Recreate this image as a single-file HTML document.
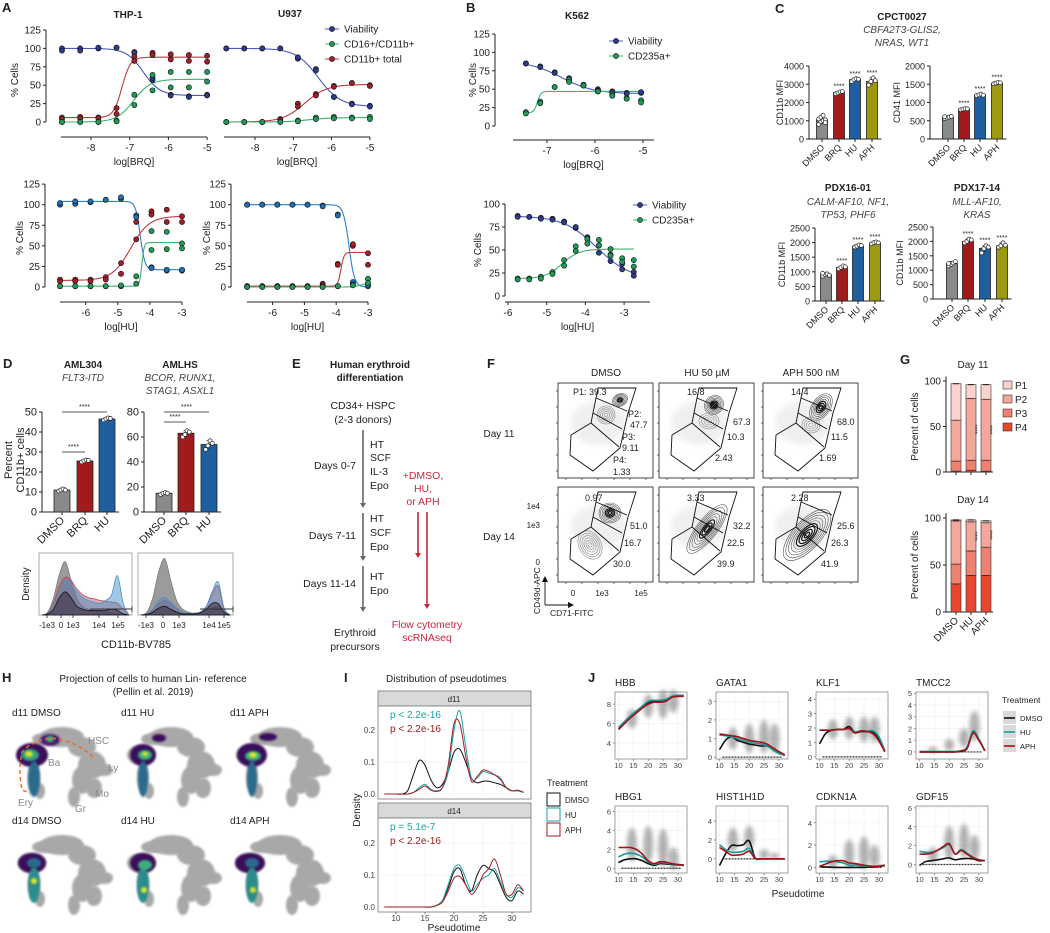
<!DOCTYPE html>
<html><head><meta charset="utf-8"><style>
html,body{margin:0;padding:0;background:#fff;}
svg{display:block;font-family:"Liberation Sans",Arial,sans-serif;}
</style></head><body>
<svg id="fig" width="1050" height="933" viewBox="0 0 1050 933" xmlns="http://www.w3.org/2000/svg">
<defs>
<filter id="blur2" x="-50%" y="-50%" width="200%" height="200%"><feGaussianBlur stdDeviation="2"/></filter>
<filter id="blur1" x="-50%" y="-50%" width="200%" height="200%"><feGaussianBlur stdDeviation="1"/></filter>
<filter id="blur3" x="-50%" y="-50%" width="200%" height="200%"><feGaussianBlur stdDeviation="3"/></filter>
</defs>
</svg>
<script>
const NS='http://www.w3.org/2000/svg';
const svg=document.getElementById('fig');

/* ---------- Panel A data ---------- */
const aTopDoses=[-8.75,-8.28,-7.81,-7.34,-6.88,-6.41,-5.94,-5.47,-5.0];
const aBotDoses=[-6.8,-6.325,-5.85,-5.375,-4.9,-4.425,-3.95,-3.475,-3.0];
const thpBrqVia=[[100,100,100,101,95,57,37,35,37],[97,97,101,101,94,60,36,34,36]];
const thpBrqRed=[[6,7,6,19,89,94,92,91,90],[4,5,5,11,83,91,85,83,82]];
const thpBrqGrn=[[0,0,0,2,37,64,68,68,68],[0,0,0,1,23,43,47,47,55]];
const u937BrqVia=[[100,100,100,100,86,72,34,25,22],[100,100,100,100,88,70,34,24,21]];
const u937BrqRed=[[0,0,0,4,25,38,49,53,50],[0,0,0,3,21,36,48,53,49]];
const u937BrqGrn=[[0,0,0,0,2,6,7,6,7],[0,0,0,0,1,4,5,5,4]];
const thpHuVia=[[100,101,103,106,107,87,24,20,20],[102,104,104,106,109,85,23,21,21]];
const thpHuRed=[[9,9,9,12,29,58,92,94,86],[7,7,7,9,16,79,88,79,79]];
const thpHuGrn=[[1,1,1,1,1,4,68,67,53],[1,1,1,1,2,13,45,46,47]];
const u937HuVia=[[100,100,100,100,100,99,88,5,1],[100,100,100,100,100,98,87,6,2]];
const u937HuRed=[[1,1,1,1,1,4,28,50,41],[1,1,1,1,1,2,27,52,27]];
const u937HuGrn=[[0,0,0,0,0,0,1,3,10],[0,0,0,0,0,0,1,2,5]];
/* curve params: start, end, logEC50, hill */
const fitThpBrq=[[100,36,-6.65,2],[6,88,-7.2,4],[0,58,-6.9,2]];
const fitU937Brq=[[100,21,-6.35,1.5],[0,51,-6.7,1.5],[0,6,-6.6,1.5]];
const fitThpHu=[[104,21,-4.3,6],[8,86,-4.6,1.5],[1,54,-4.25,12]];
const fitU937Hu=[[100,0,-3.6,5],[1,42,-3.85,9],[0,8,-3.1,3]];
/* ---------- Panel B data ---------- */
const bTopDoses=[-7.44,-7.14,-6.84,-6.54,-6.24,-5.94,-5.64,-5.34,-5.04];
const bBotDoses=[-5.75,-5.45,-5.15,-4.85,-4.55,-4.25,-3.95,-3.65,-3.35,-3.05,-2.75];
const k562BrqVia=[[85,81,73,65,56,50,47,45,45],[85,80,72,62,55,48,46,44,46]];
const k562BrqGrn=[[19,33,53,63,56,47,43,38,35],[17,31,53,60,55,47,41,37,32]];
const k562HuVia=[[87,86,85,84,81,74,64,55,45,35,26],[86,86,84,83,80,75,62,47,38,29,22]];
const k562HuGrn=[[19,19,21,26,39,54,62,61,51,41,39],[18,18,19,24,33,49,57,55,44,37,32]];
const fitK562Brq=[[88,44,-6.7,1.3],[18,47,-7.2,12]];
const fitK562Hu=[[87,18,-3.7,1],[19,51,-4.6,2]];
/* ---------- Panel C data ---------- */
const cCats=['DMSO','BRQ','HU','APH'];
const cCpctCd11b=[1050,2550,3250,3150];
const cCpctCd11bReps=[[800,950,1000,1050,1100,1200,1300,900],[2480,2520,2580,2600],[3150,3250,3300,3280],[2950,3150,3350,3200]];
const cCpctCd41=[590,820,1210,1530];
const cCpctCd41Reps=[[560,580,600,620,610],[800,820,830,825],[1190,1210,1230,1200],[1510,1530,1550,1540]];
const cPdx16=[900,1150,1880,1990];
const cPdx16Reps=[[850,900,930,880,950],[1100,1150,1200,1170],[1850,1880,1920,1900],[1960,2000,2020,1990]];
const cPdx17=[1230,2000,1760,1850];
const cPdx17Reps=[[1150,1200,1250,1300,1230],[1950,2000,2080,2050],[1600,1750,1850,1800],[1800,1850,1950,1870]];
/* ---------- Panel D data ---------- */
const dCats=['DMSO','BRQ','HU'];
const dAml304=[11,25.5,46.5];
const dAml304Reps=[[10.5,11,11.5,11],[25,25.5,26,25.8],[46,46.5,47,46.8]];
const dAmlhs=[15,63,54];
const dAmlhsReps=[[14,15,15.5,15],[60,62,65,64],[50,53,57,55]];
const dDensLeft=[[0,0.05,0.3,0.7,0.92,0.6,0.3,0.15,0.1,0.08,0.06,0.05,0.04,0.02,0,0],[0,0.02,0.2,0.5,0.65,0.6,0.45,0.35,0.3,0.28,0.25,0.24,0.22,0.2,0.1,0],[0,0.02,0.15,0.4,0.6,0.55,0.4,0.3,0.25,0.22,0.2,0.25,0.35,0.68,0.2,0],[0,0.02,0.1,0.3,0.4,0.3,0.15,0.1,0.08,0.08,0.08,0.08,0.1,0.08,0.02,0]];
const dDensRight=[[0,0.05,0.3,0.75,0.97,0.6,0.25,0.1,0.05,0.03,0.05,0.08,0.12,0.15,0.05,0],[0,0.02,0.1,0.2,0.25,0.2,0.12,0.05,0.03,0.03,0.05,0.15,0.35,0.5,0.1,0],[0,0.02,0.1,0.25,0.3,0.22,0.12,0.05,0.03,0.03,0.05,0.15,0.4,0.57,0.12,0],[0,0.01,0.05,0.12,0.15,0.1,0.05,0.02,0.02,0.02,0.04,0.1,0.2,0.2,0.05,0]];
/* ---------- Panel G data ---------- */
const gCats=['DMSO','HU','APH'];
const gDay11=[[1,11,45,40],[2,11,68,15],[1,12,67,16]]; /* P4,P3,P2,P1 */
const gDay14=[[30,21,46,1],[39,26,31,2],[39,30,26,2]];
/* ---------- Panel I data ---------- */
const iTimes=[8,9,10,11,12,13,14,15,16,17,18,19,20,21,22,23,24,25,26,27,28,29,30,31,32];
const iD11Dmso=[0,0,0,0,0.01,0.06,0.105,0.09,0.045,0.02,0.03,0.07,0.13,0.14,0.1,0.05,0.035,0.04,0.04,0.035,0.03,0.02,0.01,0.01,0.005];
const iD11Hu=[0,0,0,0,0,0.005,0.02,0.03,0.015,0.01,0.02,0.07,0.2,0.26,0.15,0.05,0.05,0.07,0.065,0.06,0.05,0.02,0.01,0.01,0.005];
const iD11Aph=[0,0,0,0,0,0.005,0.015,0.025,0.012,0.008,0.02,0.09,0.22,0.22,0.12,0.04,0.055,0.075,0.07,0.06,0.045,0.02,0.01,0.012,0.005];
const iD14Dmso=[0,0,0,0,0,0,0,0,0,0.005,0.02,0.06,0.11,0.12,0.07,0.05,0.1,0.13,0.12,0.11,0.07,0.03,0.02,0.05,0.04];
const iD14Hu=[0,0,0,0,0,0,0,0,0,0.005,0.02,0.07,0.12,0.13,0.09,0.05,0.07,0.09,0.1,0.12,0.08,0.04,0.03,0.06,0.05];
const iD14Aph=[0,0,0,0,0,0,0,0,0,0.005,0.015,0.05,0.09,0.095,0.07,0.04,0.06,0.1,0.12,0.15,0.1,0.04,0.04,0.07,0.05];
/* ---------- Panel J data ---------- */
const jGenes=['HBB','GATA1','KLF1','TMCC2','HBG1','HIST1H1D','CDKN1A','GDF15'];
const jTimes=[10,12,14,16,18,20,22,24,26,28,30,32];
const jYRange=[[2.35,9.25],[-0.1,3.5],[-0.15,4.5],[-0.6,5.1],[-0.5,6.6],[-1.5,5.6],[-0.5,5.5],[-0.9,6.2]];
const jTicks=[[4,6,8],[0,1,2,3],[0,1,2,3,4],[0,1,2,3,4,5],[0,2,4,6],[0,2,4],[0,2,4],[0,2,4,6]];
const jDmso=[[5.4,6.0,6.6,7.1,7.6,8.1,8.3,8.3,8.4,8.8,8.9,8.9],[0.4,0.9,1.1,0.9,0.8,0.7,0.65,0.6,0.6,0.4,0.2,0.1],[0.9,1.6,1.85,1.9,1.9,2.1,1.7,1.75,1.75,1.7,1.2,0.4],[0,0,0,0,0,0,0,0.05,0.3,1.7,1.0,0.1],[0.6,0.9,1.0,1.0,0.8,0.5,0.3,0.5,0.45,0.4,0.35,0.3],[-0.7,0.5,1.4,1.4,1.5,1.9,0.1,0,0,0,0,0],[0.05,0.05,0.02,0,0,0,0,0,0.02,0.05,0.1,0.15],[-0.1,0.3,0.4,0.5,0.6,0.7,0.5,0.6,0.65,0.6,0.4,0.4]];
const jHu=[[5.6,6.2,6.8,7.3,7.8,8.3,8.4,8.4,8.5,8.8,8.9,8.9],[1.2,1.15,1.1,1.0,0.9,0.8,0.75,0.7,0.6,0.4,0.2,0.1],[1.85,1.85,1.85,1.9,1.9,1.95,1.75,1.8,1.8,1.8,1.4,0.4],[0.05,0.05,0.05,0.05,0.05,0.05,0.05,0.1,0.4,1.8,1.1,0.1],[1.2,1.5,1.6,1.5,1.2,0.7,0.4,0.6,0.55,0.45,0.4,0.35],[1.5,1.0,0.7,0.7,0.8,1.1,0.05,0,0,0,0,0],[0.5,0.55,0.55,0.5,0.4,0.2,0.2,0.15,0.1,0.1,0.15,0.2],[1.4,1.3,1.3,1.5,1.8,2.1,1.1,1.6,1.2,0.8,0.5,0.4]];
const jAph=[[5.4,6.0,6.6,7.1,7.6,8.0,8.2,8.2,8.3,8.7,8.8,8.8],[1.25,1.2,1.15,1.1,1.0,0.9,0.85,0.8,0.7,0.5,0.3,0.12],[1.85,1.85,1.85,1.9,1.9,1.95,1.65,1.8,1.75,1.6,1.1,0.35],[0,0,0,0,0,0,0,0.1,0.3,1.6,1.0,0.1],[2.2,2.2,2.2,2.0,1.5,0.8,0.5,0.7,0.65,0.5,0.4,0.35],[1.2,0.8,0.4,0.4,0.5,0.8,0.05,0,0,0,0,0],[0.1,0.3,0.5,0.6,0.6,0.4,0.35,0.25,0.15,0.1,0.1,0.2],[1.1,1.1,1.2,1.5,1.9,2.2,1.1,1.5,1.1,0.7,0.5,0.4]];
/* expression clouds: [centre, half-spread] at pseudotime 14.5, 20, 25, 28.5 */
const jCloudTimes=[14.5,20,25,28.5];
const jClouds=[[[6.5,1],[7.8,1.2],[8,1.5],[8.3,1.2]],[[1,0.6],[1,0.8],[1.1,0.9],[1,0.8]],[[1.9,0.7],[2,0.8],[1.9,0.9],[1.9,0.9]],[[0.2,0.2],[0.6,0.5],[1.2,0.8],[2.2,1.3]],[[2.5,1.8],[2.5,2],[2.2,2],[1,1.2]],[[2,1.3],[2.2,1.3],[0.5,0.5],[0.3,0.3]],[[0.5,0.6],[1.2,1.3],[1.3,1.5],[1,1]],[[1,0.8],[2.3,1.8],[2.5,1.8],[1.8,1.3]]];

/* ---------- helpers ---------- */
function mk(tag,attrs,name,inter,parent){
  const e=document.createElementNS(NS,tag);
  for(const k in attrs){ if(attrs[k]!==undefined&&attrs[k]!==null) e.setAttribute(k,attrs[k]); }
  
  
  (parent||svg).appendChild(e);
  return e;
}
function tx(x,y,s,o,name){
  o=o||{};
  const e=mk('text',{x:x,y:y,'font-size':o.fs||9,'text-anchor':o.a||'start','font-weight':o.b?'bold':'normal','font-style':o.i?'italic':'normal',fill:o.c||'#222',transform:o.r?('rotate('+o.r+' '+x+' '+y+')'):null},name||'label',false,o.p);
  e.textContent=s; return e;
}
function ln(x1,y1,x2,y2,c,w,name,dash,p){
  return mk('line',{x1:x1,y1:y1,x2:x2,y2:y2,stroke:c||'#222','stroke-width':w||1,'stroke-dasharray':dash||null},name||'line',false,p);
}
function smooth(pts){
  if(pts.length<2) return '';
  let d='M'+pts[0][0].toFixed(1)+','+pts[0][1].toFixed(1);
  for(let i=0;i<pts.length-1;i++){
    const p0=pts[i-1]||pts[i],p1=pts[i],p2=pts[i+1],p3=pts[i+2]||p2;
    const c1=[p1[0]+(p2[0]-p0[0])/6,p1[1]+(p2[1]-p0[1])/6];
    const c2=[p2[0]-(p3[0]-p1[0])/6,p2[1]-(p3[1]-p1[1])/6];
    d+='C'+c1[0].toFixed(1)+','+c1[1].toFixed(1)+' '+c2[0].toFixed(1)+','+c2[1].toFixed(1)+' '+p2[0].toFixed(1)+','+p2[1].toFixed(1);
  }
  return d;
}
function sig(p,x){ return p[0]+(p[1]-p[0])/(1+Math.pow(10,(p[2]-x)*p[3])); }

/* ---------- dose response plot ---------- */
function doseResp(c){
  const X=v=>c.xref+(v-c.tref)*c.ppd;
  const Y=v=>c.y0-v*c.ppu;
  if(c.yaxis){
    ln(c.yaxis,Y(0),c.yaxis,Y(c.ymax),'#222',1,'y-axis');
    c.yticks.forEach(t=>{ ln(c.yaxis-3,Y(t),c.yaxis,Y(t),'#222',1,'y-tick'); tx(c.yaxis-5,Y(t)+3.5,String(t),{a:'end',fs:10},'y-tick-label'); });
  }
  ln(c.xa0,c.xaxisY,c.xa1,c.xaxisY,'#222',1,'x-axis');
  c.xticks.forEach(t=>{ ln(X(t),c.xaxisY,X(t),c.xaxisY+3,'#222',1,'x-tick'); tx(X(t),c.xaxisY+14,String(t),{a:'middle',fs:10},'x-tick-label'); });
  tx((c.xa0+c.xa1)/2,c.xaxisY+28,c.xlabel,{a:'middle',fs:10},'x-axis-title');
  c.series.forEach((s,si)=>{
    const pts=[];
    for(let k=0;k<=80;k++){ const x=c.doses[0]+(c.doses[c.doses.length-1]-c.doses[0])*k/80; pts.push([X(x),Y(sig(s.fit,x))]); }
    mk('path',{d:smooth(pts),fill:'none',stroke:s.line,'stroke-width':1.1},'fit-curve-'+s.key);
  });
  c.series.forEach(s=>{
    s.reps.forEach(rep=>rep.forEach((v,i)=>{
      mk('circle',{cx:X(c.doses[i]),cy:Y(v),r:2.6,fill:s.dot,stroke:'#111','stroke-width':0.6},'point-'+s.key);
    }));
  });
}
const VIA={dot:'#2e3a8c',line:'#4a5bbf'}, VIA2={dot:'#1f6fb8',line:'#2a7fd0'}, RED={dot:'#a31d24',line:'#c0393f'}, GRN={dot:'#1f9a55',line:'#3cb371'};
function ser(col,key,reps,fit){ return {dot:col.dot,line:col.line,key:key,reps:reps,fit:fit}; }

tx(2,12,'A',{b:1,fs:13},'panel-label-a');
tx(128,18,'THP-1',{b:1,fs:10,a:'middle'},'thp1-title');
tx(290,17,'U937',{b:1,fs:10,a:'middle'},'u937-title');
tx(18,80,'% Cells',{a:'middle',fs:10,r:-90},'y-axis-title');
tx(23,238,'% Cells',{a:'middle',fs:10,r:-90},'y-axis-title');
tx(210,238,'% Cells',{a:'middle',fs:10,r:-90},'y-axis-title');

doseResp({xref:91,tref:-8,ppd:38.7,y0:122,ppu:0.736,ymax:125,yaxis:46,yticks:[0,25,50,75,100,125],xaxisY:137,xa0:61,xa1:207,xticks:[-8,-7,-6,-5],xlabel:'log[BRQ]',doses:aTopDoses,
 series:[ser(VIA,'viability',thpBrqVia,fitThpBrq[0]),ser(RED,'cd11b-total',thpBrqRed,fitThpBrq[1]),ser(GRN,'cd16-cd11b',thpBrqGrn,fitThpBrq[2])]});
doseResp({xref:255,tref:-8,ppd:38.3,y0:122,ppu:0.736,xaxisY:137,xa0:224,xa1:370,xticks:[-8,-7,-6,-5],xlabel:'log[BRQ]',doses:aTopDoses,
 series:[ser(VIA,'viability',u937BrqVia,fitU937Brq[0]),ser(RED,'cd11b-total',u937BrqRed,fitU937Brq[1]),ser(GRN,'cd16-cd11b',u937BrqGrn,fitU937Brq[2])]});
doseResp({xref:182,tref:-3,ppd:32.1,y0:287,ppu:0.823,ymax:125,yaxis:45,yticks:[0,25,50,75,100,125],xaxisY:302,xa0:60,xa1:182,xticks:[-6,-5,-4,-3],xlabel:'log[HU]',doses:aBotDoses,
 series:[ser(VIA2,'viability',thpHuVia,fitThpHu[0]),ser(RED,'cd11b-total',thpHuRed,fitThpHu[1]),ser(GRN,'cd16-cd11b',thpHuGrn,fitThpHu[2])]});
doseResp({xref:368,tref:-3,ppd:31.8,y0:287,ppu:0.823,ymax:125,yaxis:231,yticks:[0,25,50,75,100,125],xaxisY:302,xa0:247,xa1:368,xticks:[-6,-5,-4,-3],xlabel:'log[HU]',doses:aBotDoses,
 series:[ser(VIA2,'viability',u937HuVia,fitU937Hu[0]),ser(RED,'cd11b-total',u937HuRed,fitU937Hu[1]),ser(GRN,'cd16-cd11b',u937HuGrn,fitU937Hu[2])]});

function legend(x,y,items,gap){
  items.forEach((it,i)=>{
    const yy=y+i*gap;
    ln(x-7,yy,x+7,yy,it[1],1,'legend-line');
    mk('circle',{cx:x,cy:yy,r:2.6,fill:it[0],stroke:'#111','stroke-width':0.6},'legend-marker');
    tx(x+12,yy+3.5,it[2],{fs:10},'legend-entry');
  });
}
legend(332,29,[[VIA.dot,VIA.line,'Viability'],[GRN.dot,GRN.line,'CD16+/CD11b+'],[RED.dot,RED.line,'CD11b+ total']],15);

/* ---------- Panel B ---------- */
tx(466,12,'B',{b:1,fs:13},'panel-label-b');
tx(577,19,'K562',{b:1,fs:10,a:'middle'},'k562-title');
tx(476,80,'% Cells',{a:'middle',fs:10,r:-90},'y-axis-title');
tx(481,250,'% Cells',{a:'middle',fs:10,r:-90},'y-axis-title');
doseResp({xref:547,tref:-7,ppd:48,y0:126,ppu:0.736,ymax:125,yaxis:495,yticks:[0,25,50,75,100,125],xaxisY:140,xa0:513,xa1:654,xticks:[-7,-6,-5],xlabel:'log[BRQ]',doses:bTopDoses,
 series:[ser(VIA,'viability',k562BrqVia,fitK562Brq[0]),ser(GRN,'cd235a',k562BrqGrn,fitK562Brq[1])]});
doseResp({xref:508,tref:-6,ppd:38.7,y0:296,ppu:0.92,ymax:100,yaxis:505,yticks:[0,25,50,75,100],xaxisY:302,xa0:505,xa1:650,xticks:[-6,-5,-4,-3],xlabel:'log[HU]',doses:bBotDoses,
 series:[ser(VIA,'viability',k562HuVia,fitK562Hu[0]),ser(GRN,'cd235a',k562HuGrn,fitK562Hu[1])]});
legend(616,41,[[VIA.dot,VIA.line,'Viability'],[GRN.dot,GRN.line,'CD235a+']],15);
legend(640,205,[[VIA.dot,VIA.line,'Viability'],[GRN.dot,GRN.line,'CD235a+']],15);

/* ---------- bar plots (C, D) ---------- */
const BARCOL=['#8a8a8a','#a01c1c','#1f5fa0','#9c9a10'];
function barPlot(c){
  const Y=v=>c.y0-v*c.ppu;
  ln(c.yaxis,Y(0),c.yaxis,Y(c.ymax),'#222',1,'y-axis');
  c.yticks.forEach(t=>{ ln(c.yaxis-3,Y(t),c.yaxis,Y(t),'#222',1,'y-tick'); tx(c.yaxis-5,Y(t)+3.5,String(t),{a:'end',fs:c.fs||9},'y-tick-label'); });
  ln(c.yaxis,Y(0),c.xs[c.xs.length-1]+c.bw/2+4,Y(0),'#222',1,'x-axis');
  c.vals.forEach((v,i)=>{
    const x=c.xs[i];
    mk('rect',{x:x-c.bw/2,y:Y(v),width:c.bw,height:v*c.ppu,fill:BARCOL[i],stroke:'#222','stroke-width':0.8},'bar-'+c.cats[i].toLowerCase());
    const reps=c.reps[i]; const mx=Math.max(...reps), mn=Math.min(...reps);
    ln(x,Y(mn),x,Y(mx),'#222',0.8,'error-bar');
    ln(x-2.5,Y(mx),x+2.5,Y(mx),'#222',0.8,'error-cap');
    reps.forEach((r,j)=>{ mk('circle',{cx:x+((j%4)-1.5)*2.2,cy:Y(r),r:2,fill:'#fff',stroke:'#222','stroke-width':0.7},'replicate-point'); });
    ln(x,Y(0),x,Y(0)+3,'#222',1,'x-tick');
    tx(x+3,Y(0)+9,c.cats[i],{a:'end',fs:c.fs||9,r:-45},'x-tick-label');
    if(c.stars&&c.stars[i]) tx(x,Y(mx)-3,'****',{a:'middle',fs:7},'significance-stars');
  });
  if(c.ylabel) tx(c.ylx,(Y(0)+Y(c.ymax))/2,c.ylabel,{a:'middle',fs:c.fs||9,r:-90},'y-axis-title');
}
tx(775,13,'C',{b:1,fs:13},'panel-label-c');
tx(902,20,'CPCT0027',{b:1,fs:10,a:'middle'},'cpct0027-title');
tx(902,33,'CBFA2T3-GLIS2,',{i:1,fs:10,a:'middle',c:'#444'},'mutation-label');
tx(902,46,'NRAS, WT1',{i:1,fs:10,a:'middle',c:'#444'},'mutation-label');
barPlot({cats:cCats,vals:cCpctCd11b,reps:cCpctCd11bReps,xs:[822,839,855,872],bw:11,y0:139,ppu:73/4000,ymax:4000,yticks:[0,1000,2000,3000,4000],yaxis:809,stars:[0,1,1,1],ylabel:'CD11b MFI',ylx:783});
barPlot({cats:cCats,vals:cCpctCd41,reps:cCpctCd41Reps,xs:[948,964,980,997],bw:11,y0:139,ppu:73/2000,ymax:2000,yticks:[0,500,1000,1500,2000],yaxis:930,stars:[0,1,1,1],ylabel:'CD41 MFI',ylx:900});
tx(848,191,'PDX16-01',{b:1,fs:10,a:'middle'},'pdx1601-title');
tx(848,205,'CALM-AF10, NF1,',{i:1,fs:10,a:'middle',c:'#444'},'mutation-label');
tx(848,218,'TP53, PHF6',{i:1,fs:10,a:'middle',c:'#444'},'mutation-label');
tx(977,191,'PDX17-14',{b:1,fs:10,a:'middle'},'pdx1714-title');
tx(977,205,'MLL-AF10,',{i:1,fs:10,a:'middle',c:'#444'},'mutation-label');
tx(977,218,'KRAS',{i:1,fs:10,a:'middle',c:'#444'},'mutation-label');
barPlot({cats:cCats,vals:cPdx16,reps:cPdx16Reps,xs:[826,842,858,875],bw:11,y0:301,ppu:73/2500,ymax:2500,yticks:[0,500,1000,1500,2000,2500],yaxis:815,stars:[0,1,1,1],ylabel:'CD11b MFI',ylx:785});
barPlot({cats:cCats,vals:cPdx17,reps:cPdx17Reps,xs:[952,968,985,1002],bw:11,y0:299,ppu:72/2500,ymax:2500,yticks:[0,500,1000,1500,2000,2500],yaxis:933,stars:[0,1,1,1],ylabel:'CD11b MFI',ylx:903});

/* ---------- Panel D ---------- */
tx(3,368,'D',{b:1,fs:13},'panel-label-d');
tx(83,368,'AML304',{b:1,fs:10,a:'middle'},'aml304-title');
tx(83,381,'FLT3-ITD',{i:1,fs:10,a:'middle',c:'#444'},'mutation-label');
tx(180,368,'AMLHS',{b:1,fs:10,a:'middle'},'amlhs-title');
tx(180,381,'BCOR, RUNX1,',{i:1,fs:10,a:'middle',c:'#444'},'mutation-label');
tx(180,394,'STAG1, ASXL1',{i:1,fs:10,a:'middle',c:'#444'},'mutation-label');
barPlot({cats:dCats,vals:dAml304,reps:dAml304Reps,xs:[62,85,107],bw:16,y0:512,ppu:2,ymax:50,yticks:[0,10,20,30,40,50],yaxis:42,fs:11});
barPlot({cats:dCats,vals:dAmlhs,reps:dAmlhsReps,xs:[164,186,209],bw:16,y0:512,ppu:1.25,ymax:80,yticks:[0,20,40,60,80],yaxis:144,fs:11});
tx(12,460,'Percent',{a:'middle',fs:11,r:-90},'y-axis-title');
tx(24,460,'CD11b+ cells',{a:'middle',fs:11,r:-90},'y-axis-title');
function bracket(x1,x2,y){ ln(x1,y,x2,y,'#222',0.8,'significance-bracket'); tx((x1+x2)/2,y-3,'****',{a:'middle',fs:7},'significance-stars'); }
bracket(62,85,452); bracket(62,107,412); bracket(164,186,422); bracket(164,209,412);
function densityBox(x0,x1,y0,y1,data,ticks,gate){
  mk('rect',{x:x0,y:y0,width:x1-x0,height:y1-y0,fill:'none',stroke:'#999','stroke-width':0.8},'density-frame');
  const cols=[['#7a7a7a',0.75],['#b5474f',0.45],['#4a90c8',0.5],['#3a2a3a',0.55]];
  data.forEach((arr,si)=>{
    const pts=arr.map((v,i)=>[x0+3+i*(x1-x0-6)/(arr.length-1),y1-v*(y1-y0-4)]);
    const d=smooth(pts)+'L'+pts[pts.length-1][0]+','+y1+'L'+pts[0][0]+','+y1+'Z';
    mk('path',{d:d,fill:cols[si][0],'fill-opacity':cols[si][1],stroke:si==3?'#111':cols[si][0],'stroke-width':0.8},'density-curve');
  });
  ticks.forEach(t=>{ ln(t[0],y1,t[0],y1+3,'#222',0.8,'x-tick'); tx(t[0],y1+13,t[1],{a:'middle',fs:8},'x-tick-label'); });
  ln(gate[0],gate[2],gate[1],gate[2],'#333',0.9,'gate-line');
  ln(gate[1],gate[2]-3,gate[1],gate[2]+3,'#333',0.9,'gate-line');
}
densityBox(39,132,553,615,dDensLeft,[[47,'-1e3'],[61,'0'],[73,'1e3'],[99,'1e4'],[118,'1e5']],[90,132,609]);
densityBox(138,233,553,615,dDensRight,[[146,'-1e3'],[163,'0'],[179,'1e3'],[209,'1e4'],[224,'1e5']],[200,233,609]);
tx(29,584,'Density',{a:'middle',fs:10,r:-90},'y-axis-title');
tx(136,648,'CD11b-BV785',{a:'middle',fs:11},'x-axis-title');

/* ---------- Panel E ---------- */
tx(292,368,'E',{b:1,fs:13},'panel-label-e');
tx(370,368,'Human erythroid',{b:1,fs:10,a:'middle'},'flowchart-title');
tx(370,381,'differentiation',{b:1,fs:10,a:'middle'},'flowchart-title');
tx(363,409,'CD34+ HSPC',{a:'middle',fs:10.5},'flow-step');
tx(363,423,'(2-3 donors)',{a:'middle',fs:10.5},'flow-step');
function arrowDown(x,y1,y2,c,name){ ln(x,y1,x,y2-4,c,1.6,name); mk('path',{d:'M'+(x-3)+','+(y2-5)+'L'+(x+3)+','+(y2-5)+'L'+x+','+y2+'Z',fill:c},name+'-head'); }
arrowDown(363,430,508,'#666','timeline-arrow');
arrowDown(363,513,561,'#666','timeline-arrow');
arrowDown(363,566,612,'#666','timeline-arrow');
tx(356,469,'Days 0-7',{a:'end',fs:10.5},'stage-label');
[['HT',448],['SCF',461],['IL-3',475],['Epo',489]].forEach(s=>tx(370,s[1],s[0],{fs:10.5},'cytokine-label'));
tx(356,539,'Days 7-11',{a:'end',fs:10.5},'stage-label');
[['HT',522],['SCF',536],['Epo',550]].forEach(s=>tx(370,s[1],s[0],{fs:10.5},'cytokine-label'));
tx(356,587,'Days 11-14',{a:'end',fs:10.5},'stage-label');
[['HT',580],['Epo',594]].forEach(s=>tx(370,s[1],s[0],{fs:10.5},'cytokine-label'));
tx(355,636,'Erythroid',{a:'middle',fs:10.5},'flow-step');
tx(355,650,'precursors',{a:'middle',fs:10.5},'flow-step');
const RC='#c8283c';
tx(423,479,'+DMSO,',{a:'middle',fs:10.5,c:RC},'treatment-label');
tx(423,492,'HU,',{a:'middle',fs:10.5,c:RC},'treatment-label');
tx(423,505,'or APH',{a:'middle',fs:10.5,c:RC},'treatment-label');
arrowDown(418,512,558,RC,'treatment-arrow');
arrowDown(427,512,609,RC,'treatment-arrow');
tx(427,628,'Flow cytometry',{a:'middle',fs:10.5,c:RC},'readout-label');
tx(427,641,'scRNAseq',{a:'middle',fs:10.5,c:RC},'readout-label');

/* ---------- Panel F ---------- */
tx(487,368,'F',{b:1,fs:13},'panel-label-f');
const fCols=[558,659,763], fRows=[383,487];
const fTitles=['DMSO','HU 50 µM','APH 500 nM'];
const fLabels=[
 [[['P1: 39.3',15,12],['P2:',70,34],['47.7',72,45],['P3:',64,57],['9.11',64,68],['P4:',55,80],['1.33',55,92]],
  [['16.8',28,12],['67.3',74,42],['10.3',68,57],['2.43',56,78]],
  [['14.4',28,12],['68.0',74,42],['11.5',68,57],['1.69',56,78]]],
 [[['0.97',27,14],['51.0',72,42],['16.7',66,59],['30.0',55,80]],
  [['3.33',28,14],['32.2',74,42],['22.5',68,59],['39.9',58,80]],
  [['2.28',28,14],['25.6',74,42],['26.3',68,59],['41.9',58,80]]]];
const fBlobs=[
 [[[62,17,8,6,-30,6,1],[48,32,9,9,0,5,0]],[[55,22,10,9,-45,7,1],[50,38,10,8,0,4,0]],[[58,24,9,15,35,7,1],[48,42,9,8,0,4,0]]],
 [[[52,26,11,10,0,7,1],[32,58,11,15,-30,6,0]],[[48,42,10,30,38,8,1]],[[44,48,14,32,42,9,1]]]];
fCols.forEach((x,ci)=>tx(x+48,376,fTitles[ci],{a:'middle',fs:10},'column-title'));
tx(499,437,'Day 11',{a:'middle',fs:10},'row-label');
tx(499,540,'Day 14',{a:'middle',fs:10},'row-label');
fRows.forEach((y,ri)=>fCols.forEach((x,ci)=>{
  const g=mk('g',{transform:'translate('+x+','+y+')'},'flow-plot');
  mk('rect',{x:0,y:0,width:95,height:95,fill:'#fff',stroke:'#333','stroke-width':0.9},'flow-plot-frame',false,g);
  mk('ellipse',{cx:40,cy:40,rx:28,ry:22,fill:'#bbb',opacity:0.22,filter:'url(#blur3)'},'event-cloud',false,g);
  fBlobs[ri][ci].forEach(b=>{
    for(let k=b[5];k>=1;k--){
      const f=k/b[5];
      mk('ellipse',{cx:b[0],cy:b[1],rx:b[2]*f,ry:b[3]*f,transform:'rotate('+b[4]+' '+b[0]+' '+b[1]+')',fill:'none',stroke:b[6]?(f<0.5?'#111':'#555'):'#888','stroke-width':b[6]&&f<0.5?1.2:0.6},'contour-line',false,g);
    }
  });
  mk('polygon',{points:'40,5 78,5 70,30 62,65 35,88 12,72 13,52 33,40',fill:'none',stroke:'#111','stroke-width':0.9},'gate-outline',false,g);
  ln(38,15,69,28,'#111',0.9,'gate-divider',null,g);
  ln(35,30,64,46,'#111',0.9,'gate-divider',null,g);
  ln(33,40,61,64,'#111',0.9,'gate-divider',null,g);
  for(let t=0;t<6;t++){ ln(-2,8+t*16,0,8+t*16,'#333',0.7,'y-tick',null,g); ln(8+t*16,95,8+t*16,97,'#333',0.7,'x-tick',null,g); }
  fLabels[ri][ci].forEach(l=>tx(l[1],l[2],l[0],{fs:9,p:g},'gate-percentage'));
}));
tx(540,509,'1e4',{a:'end',fs:8},'y-tick-label');
tx(540,528,'1e3',{a:'end',fs:8},'y-tick-label');
tx(540,565,'0',{a:'end',fs:8},'y-tick-label');
tx(573,596,'0',{a:'middle',fs:8},'x-tick-label');
tx(602,596,'1e3',{a:'middle',fs:8},'x-tick-label');
tx(641,596,'1e5',{a:'middle',fs:8},'x-tick-label');
ln(545,605,545,580,'#111',0.9,'y-axis-arrow');
mk('path',{d:'M542,582L548,582L545,576Z',fill:'#111'},'y-axis-arrowhead');
ln(545,605,570,605,'#111',0.9,'x-axis-arrow');
mk('path',{d:'M568,602L568,608L574,605Z',fill:'#111'},'x-axis-arrowhead');
tx(540,614,'CD49d-APC',{a:'start',fs:8.5,r:-90},'y-axis-title');
tx(550,616,'CD71-FITC',{a:'start',fs:8.5},'x-axis-title');

/* ---------- Panel G ---------- */
tx(900,364,'G',{b:1,fs:13},'panel-label-g');
const GCOL=['#e8472f','#ef8170','#f4a89c','#fad3cd'];
function stacked(y0,ppu,data,title,ty,labels){
  tx(973,ty,title,{a:'middle',fs:10},'stacked-chart-title');
  ln(946,y0,946,y0-105*ppu,'#222',1,'y-axis');
  [0,50,100].forEach(t=>{ ln(943,y0-t*ppu,946,y0-t*ppu,'#222',1,'y-tick'); tx(941,y0-t*ppu+3.5,String(t),{a:'end',fs:10},'y-tick-label'); });
  ln(946,y0,993,y0,'#222',1,'x-axis');
  const xs=[956,971,986];
  data.forEach((segs,i)=>{
    let cum=0;
    segs.forEach((v,j)=>{
      mk('rect',{x:xs[i]-5,y:y0-(cum+v)*ppu,width:10,height:v*ppu,fill:GCOL[j],stroke:'#333','stroke-width':0.6},'stacked-segment-p'+(4-j));
      cum+=v;
      ln(xs[i]-3,y0-cum*ppu,xs[i]+3,y0-cum*ppu,'#111',1,'error-cap');
    });
    ln(xs[i],y0,xs[i],y0+3,'#222',1,'x-tick');
    if(labels) tx(xs[i]+3,y0+9,gCats[i],{a:'end',fs:10,r:-45},'x-tick-label');
    if(i>0){ const mid=segs[0]+segs[1]+segs[2]/2; tx(xs[i]+2,y0-mid*ppu,'****',{a:'middle',fs:6,r:90},'significance-stars'); }
  });
  tx(918,y0-50*ppu,'Percent of cells',{a:'middle',fs:10,r:-90},'y-axis-title');
}
stacked(472,0.91,gDay11,'Day 11',368,false);
stacked(612,0.94,gDay14,'Day 14',503,true);
['P1','P2','P3','P4'].forEach((p,i)=>{
  mk('rect',{x:1003,y:381+i*14,width:9,height:8,fill:GCOL[3-i],stroke:'#333','stroke-width':0.6},'legend-swatch');
  tx(1015,389+i*14,p,{fs:10},'legend-entry');
});

/* ---------- Panel H ---------- */
tx(2,682,'H',{b:1,fs:13},'panel-label-h');
tx(153,682,'Projection of cells to human Lin- reference',{a:'middle',fs:10},'umap-title');
tx(153,695,'(Pellin et al. 2019)',{a:'middle',fs:10},'umap-subtitle');
const hCols=[12,121,230], hRows=[[716,725],[824,833]];
const hTitles=[['d11 DMSO','d11 HU','d11 APH'],['d14 DMSO','d14 HU','d14 APH']];
const refBlobs=[[50,12,22,10],[70,22,14,10],[80,40,14,14],[93,45,8,6],[70,55,10,14],[62,72,6,10],[82,63,8,10],[32,14,12,6],[20,30,14,10],[22,52,6,16],[28,66,5,8]];
const cellBlobs=[
 [[[20,30,16,12,'#3b0f5a'],[22,54,6,18,'#2a6b8c'],[38,15,10,6,'#4b1a70'],[18,30,9,6,'#2fa087'],[17,29,4,3,'#d8e220'],[38,14,4,3,'#3fb87a']],
  [[22,30,13,11,'#3b0f5a'],[22,54,5,18,'#2a6b8c'],[24,30,7,5,'#37b07f'],[24,29,3,2,'#e0e52a'],[38,13,7,4,'#3b0f5a']],
  [[22,30,15,12,'#3b0f5a'],[22,54,5,18,'#2a6b8c'],[23,31,8,5,'#37b07f'],[23,30,4,2.5,'#e0e52a'],[38,12,9,4,'#3b0f5a']]],
 [[[20,30,14,10,'#3b0f5a'],[22,52,6,18,'#2a8c8c'],[22,48,3,3,'#e0e52a'],[22,30,7,5,'#2a6b8c']],
  [[22,30,13,10,'#3b0f5a'],[22,52,6,18,'#2a8c8c'],[23,57,3,3,'#e0e52a'],[24,32,7,5,'#37b07f']],
  [[20,30,15,10,'#3b0f5a'],[22,52,6,18,'#2a8c8c'],[23,57,3,3,'#d8e220'],[22,30,7,5,'#2a6b8c']]]];
hRows.forEach((r,ri)=>hCols.forEach((x,ci)=>{
  tx(x,r[0],hTitles[ri][ci],{fs:10},'umap-subplot-title');
  const g=mk('g',{transform:'translate('+x+','+r[1]+')'},'umap-subplot');
  refBlobs.forEach(b=>mk('ellipse',{cx:b[0],cy:b[1],rx:b[2],ry:b[3],fill:'#a8a8a8',filter:'url(#blur1)'},'reference-cells',false,g));
  cellBlobs[ri][ci].forEach(b=>mk('ellipse',{cx:b[0],cy:b[1],rx:b[2],ry:b[3],fill:b[4],filter:'url(#blur1)'},'projected-cells',false,g));
}));
[['HSC',88,744],['Ba',48,766],['Ly',108,771],['Mo',95,797],['Gr',75,812],['Ery',18,806]].forEach(l=>tx(l[1],l[2],l[0],{fs:10,c:'#8a8a8a'},'lineage-label'));
mk('path',{d:'M93,757 Q75,740 50,738 Q30,742 22,752 Q18,770 22,790 L30,793',fill:'none',stroke:'#f26522','stroke-width':1.4,'stroke-dasharray':'4,3'},'trajectory-arrow');

/* ---------- Panel I ---------- */
tx(344,682,'I',{b:1,fs:13},'panel-label-i');
tx(386,682,'Distribution of pseudotimes',{fs:10},'density-title');
const IX=t=>396+(t-10)*5.8;
function iPanel(top,y0,name,series,p1,p2){
  mk('rect',{x:378,y:top,width:153,height:15,fill:'#d9d9d9',stroke:'#777','stroke-width':0.8},'facet-strip');
  tx(454,top+11,name,{a:'middle',fs:8},'facet-label');
  mk('rect',{x:378,y:top+15,width:153,height:y0-top-15+5,fill:'#fff',stroke:'#777','stroke-width':0.8},'panel-background');
  [10,15,20,25,30].forEach(t=>ln(IX(t),top+15,IX(t),y0+5,'#ececec',0.6,'grid-line'));
  [0,0.1,0.2].forEach(v=>{ const y=y0-v*320; ln(378,y,531,y,'#ececec',0.6,'grid-line'); tx(375,y+3,v.toFixed(1),{a:'end',fs:8,c:'#444'},'y-tick-label'); });
  series.forEach(s=>{
    const pts=iTimes.map((t,i)=>[IX(t),y0-s[0][i]*320]);
    mk('path',{d:smooth(pts),fill:'none',stroke:s[1],'stroke-width':1},'density-line');
  });
  tx(390,top+27,p1,{fs:10,c:'#1aa3a3'},'p-value-hu');
  tx(390,top+41,p2,{fs:10,c:'#a31d24'},'p-value-aph');
}
iPanel(691,794,'d11',[[iD11Dmso,'#111'],[iD11Hu,'#1aa3a3'],[iD11Aph,'#a31d24']],'p < 2.2e-16','p < 2.2e-16');
iPanel(803,907,'d14',[[iD14Dmso,'#111'],[iD14Hu,'#1aa3a3'],[iD14Aph,'#a31d24']],'p = 5.1e-7','p < 2.2e-16');
[10,15,20,25,30].forEach(t=>{ ln(IX(t),912,IX(t),914,'#444',0.7,'x-tick'); tx(IX(t),921,String(t),{a:'middle',fs:8,c:'#444'},'x-tick-label'); });
tx(454,931,'Pseudotime',{a:'middle',fs:10},'x-axis-title');
tx(360,810,'Density',{a:'middle',fs:10,r:-90},'y-axis-title');
tx(547,786,'Treatment',{fs:9},'legend-title');
[['DMSO','#111'],['HU','#1aa3a3'],['APH','#a31d24']].forEach((l,i)=>{
  mk('rect',{x:547,y:793+i*15,width:13,height:13,fill:'#fff',stroke:l[1],'stroke-width':1},'legend-key');
  tx(565,803+i*15,l[0],{fs:8},'legend-entry');
});

/* ---------- Panel J ---------- */
tx(588,682,'J',{b:1,fs:13},'panel-label-j');
const jPos=[[615,692],[716,692],[816,692],[916,692],[615,806],[716,806],[816,806],[916,806]];
jGenes.forEach((gname,gi)=>{
  const x0=jPos[gi][0], y0=jPos[gi][1], W=72, H=67;
  const X=t=>x0+3.5+(t-10)*2.97;
  const Y=v=>y0+H-(v-jYRange[gi][0])/(jYRange[gi][1]-jYRange[gi][0])*H;
  tx(x0,y0-6,gname,{fs:10},'gene-title');
  mk('rect',{x:x0,y:y0,width:W,height:H,fill:'#fff',stroke:'#888','stroke-width':0.8},'panel-background');
  [10,15,20,25,30].forEach(t=>ln(X(t),y0,X(t),y0+H,'#efefef',0.6,'grid-line'));
  jTicks[gi].forEach(v=>{ ln(x0,Y(v),x0+W,Y(v),'#efefef',0.6,'grid-line'); ln(x0-2,Y(v),x0,Y(v),'#555',0.6,'y-tick'); tx(x0-4,Y(v)+3,String(v),{a:'end',fs:7.5,c:'#444'},'y-tick-label'); });
  jCloudTimes.forEach((t,k)=>{
    const cl=jClouds[gi][k];
    mk('ellipse',{cx:X(t),cy:Y(cl[0]),rx:5,ry:Math.max(3,cl[1]*(H/(jYRange[gi][1]-jYRange[gi][0]))),fill:'#555',opacity:0.45,filter:'url(#blur2)'},'expression-cloud');
  });
  if(jYRange[gi][0]<0) ln(X(11),Y(0),X(31),Y(0),'#333',1.2,'zero-expression-band','2,1');
  [[jDmso,'#111'],[jHu,'#1a9a9a'],[jAph,'#a50f15']].forEach(s=>{
    const pts=jTimes.map((t,i)=>[X(t),Y(s[0][gi][i])]);
    mk('path',{d:smooth(pts),fill:'none',stroke:s[1],'stroke-width':1.6},'smooth-line');
  });
  [10,15,20,25,30].forEach(t=>{ ln(X(t),y0+H,X(t),y0+H+2,'#555',0.6,'x-tick'); tx(X(t),y0+H+9,String(t),{a:'middle',fs:7.5,c:'#444'},'x-tick-label'); });
});
tx(798,897,'Pseudotime',{a:'middle',fs:10},'x-axis-title');
tx(1002,703,'Treatment',{fs:8.5},'legend-title');
[['DMSO','#111'],['HU','#1a9a9a'],['APH','#a50f15']].forEach((l,i)=>{
  mk('rect',{x:1003,y:711+i*14,width:13,height:13,fill:'#d9d9d9'},'legend-key-bg');
  ln(1004,718+i*14,1015,718+i*14,l[1],1.6,'legend-key');
  tx(1020,721+i*14,l[0],{fs:7.5},'legend-entry');
});
</script>
</body></html>
